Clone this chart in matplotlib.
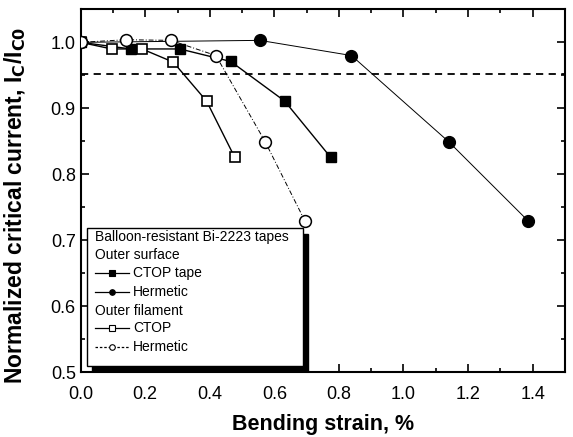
import matplotlib
matplotlib.use("Agg")
import matplotlib.pyplot as plt
from matplotlib.patches import Rectangle
from matplotlib.lines import Line2D
from matplotlib.ticker import MultipleLocator

plt.rcParams['font.family'] = ['Liberation Sans', 'DejaVu Sans']

# outer surface, CTOP tape (filled squares)
surf_ctop_x = [0.0, 0.155, 0.307, 0.465, 0.632, 0.774]
surf_ctop_y = [1.0, 0.990, 0.990, 0.971, 0.911, 0.826]
# outer surface, hermetic (filled circles)
surf_herm_x = [0.0, 0.555, 0.839, 1.141, 1.385]
surf_herm_y = [1.0, 1.003, 0.980, 0.849, 0.730]
# outer filament, CTOP (open squares)
fil_ctop_x = [0.0, 0.096, 0.190, 0.287, 0.390, 0.477]
fil_ctop_y = [1.0, 0.990, 0.990, 0.970, 0.911, 0.826]
# outer filament, hermetic (open circles)
fil_herm_x = [0.0, 0.140, 0.279, 0.419, 0.572, 0.694]
fil_herm_y = [1.0, 1.004, 1.003, 0.980, 0.849, 0.730]

criterion = 0.952

fig = plt.figure(figsize=(5.73, 4.37), dpi=100)
ax = fig.add_axes([0.1408, 0.148, 0.845, 0.8306])

ax.axhline(criterion, color='black', lw=1.3, ls=(0, (4, 3)), zorder=2)

ax.plot(surf_ctop_x, surf_ctop_y, '-', color='black', lw=1.0,
        marker='s', ms=7.5, mfc='black', mec='black', zorder=4)
ax.plot(surf_herm_x, surf_herm_y, '-', color='black', lw=0.7,
        marker='o', ms=8.5, mfc='black', mec='black', zorder=4)
ax.plot(fil_ctop_x, fil_ctop_y, '-', color='black', lw=1.0,
        marker='s', ms=7.5, mfc='white', mec='black', mew=1.2, zorder=4)
ax.plot(fil_herm_x, fil_herm_y, color='black', lw=0.7, ls=(0, (5, 2, 1, 2)),
        marker='o', ms=8.5, mfc='white', mec='black', mew=1.1, zorder=4)

ax.set_xlim(0, 1.5)
ax.set_ylim(0.5, 1.05)
ax.xaxis.set_major_locator(MultipleLocator(0.2))
ax.xaxis.set_minor_locator(MultipleLocator(0.1))
ax.yaxis.set_major_locator(MultipleLocator(0.1))
ax.yaxis.set_minor_locator(MultipleLocator(0.05))
ax.tick_params(which='both', direction='in', top=True, right=True, labelsize=13, width=1.2)
ax.tick_params(which='major', length=6)
ax.tick_params(which='minor', length=3)
ax.tick_params(axis='x', pad=10)
for s in ax.spines.values():
    s.set_linewidth(1.5)

ax.set_xlabel('Bending strain, %', fontsize=15.5, fontweight='bold', labelpad=8)
ax.set_ylabel('Normalized critical current, I$_\\mathbf{C}$/I$_\\mathbf{C0}$',
              fontsize=16.5, fontweight='bold')
ax.yaxis.set_label_coords(-0.108, 0.46)

# legend box with drop shadow, drawn in axes coordinates
x0, x1, yb, yt = 0.013, 0.459, 0.017, 0.3975
ax.add_patch(Rectangle((x0 + 0.011, 0.0), x1 - x0, yt - yb, transform=ax.transAxes,
                       facecolor='black', edgecolor='black', zorder=2.5))
ax.add_patch(Rectangle((x0, yb), x1 - x0, yt - yb, transform=ax.transAxes,
                       facecolor='white', edgecolor='black', lw=1.0, zorder=2.6))

rows = [
    ('Balloon-resistant Bi-2223 tapes', None),
    ('Outer surface', None),
    ('CTOP tape', ('s', 'black', '-')),
    ('Hermetic', ('o', 'black', '-')),
    ('Outer filament', None),
    ('CTOP', ('s', 'white', '-')),
    ('Hermetic', ('o', 'white', (0, (2, 1.5)))),
]
tx = 0.030
row_y = [0.3725, 0.322, 0.273, 0.222, 0.170, 0.121, 0.071]
for (label, h), y in zip(rows, row_y):
    if h is None:
        ax.text(tx, y, label, transform=ax.transAxes, fontsize=10,
                va='center', ha='left', zorder=3)
    else:
        m, fc, ls = h
        ax.add_line(Line2D([tx, tx + 0.07], [y, y], transform=ax.transAxes,
                           color='black', lw=0.9, ls=ls, zorder=3))
        ax.add_line(Line2D([tx + 0.035], [y], transform=ax.transAxes, marker=m,
                           ms=4, mfc=fc, mec='black', mew=0.8, ls='none', zorder=3))
        ax.text(tx + 0.078, y, label, transform=ax.transAxes, fontsize=10,
                va='center', ha='left', zorder=3)

fig.savefig('out.png', dpi=100)
